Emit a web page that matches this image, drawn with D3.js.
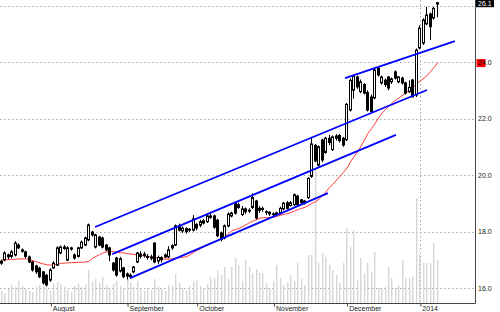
<!DOCTYPE html>
<html>
<head>
<meta charset="utf-8">
<script src="https://cdn.jsdelivr.net/npm/d3@7"></script>
<style>
  body { margin: 0; background: #fff; }
  svg text { font-family: "Liberation Sans", Arial, sans-serif; }
</style>
</head>
<body>
<div id="chart"></div>
<script>
//***************** data *******************/
// one entry per trading day, mid July 2013 -> 9 Jan 2014
var opens = [16.95,16.99,17.17,17.12,17.17,17.52,17.35,17.28,17.10,16.92,
  16.78,16.70,16.57,16.45,16.28,16.71,16.81,17.24,17.40,16.99,
  17.38,17.17,17.12,17.42,17.52,17.70,17.98,17.45,17.80,17.77,
  17.52,17.42,16.88,17.06,16.60,16.71,16.50,16.45,16.57,16.92,
  17.20,17.15,17.12,17.05,17.59,16.95,17.08,17.10,17.10,17.42,
  17.52,18.20,18.02,18.10,18.05,18.05,18.25,18.22,18.30,18.35,
  18.55,18.55,18.40,17.95,17.77,18.20,18.55,19.00,18.85,18.60,
  18.80,18.72,18.85,19.08,18.75,18.82,18.70,18.68,18.60,18.60,
  18.65,18.80,19.02,18.92,18.95,19.25,19.12,19.00,19.20,19.95,
  21.05,20.35,21.24,20.80,21.30,20.90,21.30,21.40,21.30,21.25,
  22.30,23.00,23.47,22.95,23.20,22.92,22.76,22.73,23.79,23.26,
  23.36,23.47,23.30,23.65,23.30,23.43,23.26,22.95,23.36,22.83,
  24.50,24.67,25.35,25.70,25.56,26.05];
var highs = [17.00,17.30,17.22,17.35,17.66,17.58,17.40,17.32,17.15,16.96,
  16.82,16.75,16.60,16.50,16.70,16.95,17.48,17.50,17.52,17.48,
  17.46,17.22,17.46,17.68,17.82,18.28,18.02,17.92,17.85,17.82,
  17.56,17.46,16.92,17.10,17.10,16.75,16.55,16.52,16.78,17.28,
  17.30,17.28,17.20,17.18,17.62,17.15,17.12,17.22,17.48,17.55,
  18.25,18.28,18.18,18.15,18.12,18.58,18.30,18.42,18.45,18.60,
  18.62,18.60,18.45,18.00,18.25,18.68,18.70,19.05,19.02,18.90,
  18.85,18.82,19.35,19.12,18.90,18.88,18.75,18.72,18.68,18.70,
  18.88,19.05,19.08,19.08,19.35,19.30,19.15,19.12,19.92,21.35,
  21.10,21.05,21.28,21.35,21.42,21.40,21.45,21.45,21.35,22.55,
  23.42,23.55,23.52,23.38,23.25,23.00,22.85,23.78,23.85,23.52,
  23.42,23.50,23.45,23.70,23.50,23.48,23.30,23.35,23.40,24.48,
  25.30,25.55,25.95,25.75,25.95,26.12];
var lows = [16.82,16.95,17.02,17.05,17.12,17.38,17.25,17.05,16.88,16.58,
  16.50,16.35,16.12,16.05,16.22,16.68,16.78,17.20,17.35,16.95,
  17.32,17.00,17.08,17.38,17.48,17.65,17.82,17.40,17.48,17.40,
  17.30,16.95,16.58,16.40,16.55,16.35,16.30,16.33,16.52,16.88,
  17.05,17.08,17.00,16.98,16.88,16.85,16.90,17.05,17.05,17.35,
  17.48,18.00,17.95,17.92,17.98,18.00,18.05,18.15,18.25,18.30,
  18.45,18.10,17.80,17.65,17.72,18.15,18.50,18.60,18.80,18.55,
  18.62,18.65,18.80,18.42,18.65,18.70,18.58,18.55,18.52,18.55,
  18.60,18.75,18.78,18.88,18.90,18.90,18.95,18.95,19.15,19.90,
  20.45,20.30,20.45,20.75,21.05,20.85,21.22,21.15,21.00,21.20,
  22.25,22.70,23.05,22.90,22.85,22.25,22.20,22.68,23.48,23.20,
  23.12,23.00,23.22,23.38,23.25,23.20,22.85,22.90,22.78,22.76,
  24.45,24.60,25.30,24.78,25.50,25.58];
var closes = [16.88,17.24,17.10,17.28,17.59,17.42,17.30,17.12,16.92,16.64,
  16.57,16.40,16.18,16.11,16.64,16.88,17.42,17.45,17.45,17.42,
  17.42,17.06,17.42,17.62,17.77,18.23,17.88,17.88,17.52,17.45,
  17.35,17.17,16.64,16.46,17.04,16.40,16.42,16.40,16.74,17.24,
  17.12,17.20,17.08,17.10,16.92,17.08,17.00,17.17,17.35,17.50,
  18.20,18.05,18.12,18.00,18.08,18.45,18.12,18.35,18.38,18.55,
  18.50,18.15,17.85,17.72,18.20,18.62,18.65,18.65,18.95,18.80,
  18.70,18.75,19.20,18.48,18.82,18.78,18.68,18.62,18.62,18.66,
  18.82,19.00,18.82,19.02,19.30,18.95,19.02,19.08,19.88,21.10,
  20.50,21.00,20.53,21.30,21.15,21.35,21.38,21.22,21.06,22.50,
  23.35,23.50,23.12,23.30,22.90,22.30,22.25,23.72,23.54,23.47,
  23.20,23.08,23.40,23.43,23.47,23.26,22.90,23.10,22.76,24.42,
  25.20,25.49,25.66,25.25,25.90,26.10];
// volume, thousands of shares
var volumes = [240,200,280,360,320,440,340,280,240,220,
  320,360,340,280,240,400,420,380,320,260,
  220,340,380,320,380,660,440,480,400,520,
  360,280,380,440,340,300,500,400,320,440,
  280,240,300,260,480,320,280,240,360,340,
  580,400,300,260,340,440,460,340,300,380,
  520,500,660,560,720,480,720,900,760,440,
  860,720,600,680,600,600,400,300,440,760,
  500,360,400,560,440,800,480,360,960,960,
  2700,800,1000,920,760,660,560,400,800,1500,
  1120,1460,460,900,600,800,620,1020,300,300,
  320,720,500,300,360,860,500,500,520,2100,
  980,800,800,800,1200,860];
// moving average (red line)
var movAvg = [17.00,17.00,17.01,17.01,17.02,17.03,17.03,17.03,17.00,16.96,
  16.92,16.88,16.85,16.82,16.81,16.82,16.85,16.87,16.88,16.89,
  16.90,16.90,16.91,16.91,16.92,16.95,17.05,17.12,17.18,17.24,
  17.28,17.30,17.29,17.27,17.25,17.24,17.22,17.20,17.18,17.17,
  17.15,17.13,17.11,17.09,17.07,17.05,17.03,17.02,17.02,17.04,
  17.06,17.08,17.09,17.11,17.18,17.26,17.34,17.40,17.47,17.53,
  17.59,17.64,17.68,17.74,17.83,17.92,18.03,18.07,18.11,18.17,
  18.24,18.31,18.37,18.42,18.47,18.49,18.49,18.50,18.51,18.54,
  18.58,18.61,18.63,18.68,18.73,18.78,18.82,18.86,18.93,19.00,
  19.06,19.15,19.28,19.42,19.56,19.68,19.82,19.96,20.10,20.25,
  20.48,20.65,20.82,21.02,21.25,21.48,21.64,21.82,22.02,22.18,
  22.32,22.45,22.55,22.65,22.74,22.83,22.92,23.01,23.12,23.22,
  23.33,23.42,23.53,23.67,23.82,23.98];

// trend lines: [start day, start price, end day, end price]
var trendLines = [
  [98.4, 23.43, 129.9, 24.74],
  [26.7, 18.16, 121.9, 23.01],
  [31.6, 17.20, 113.0, 21.42],
  [36.7, 16.35, 93.5, 19.36]
];

var monthIdx = [14, 36, 56, 78, 99, 120];
var monthLabels = ["August", "September", "October", "November", "December", "2014"];
var yearIdx = 120;
var priceTicks = [16, 18, 20, 22, 24, 26];

//************* set dimensions ***************/
var width = 500, height = 312;
var axisX = 475, axisY = 303;

var svg = d3.select("#chart")
  .append("svg")
    .attr("width", width)
    .attr("height", height);

//***************** scales *******************/
var x = d3.scaleLinear()
  .domain([0, closes.length - 1])
  .range([2, 437.8]);

var y = d3.scaleLinear()
  .domain([16, 26])
  .range([288, 5.5]);

var yVol = d3.scaleLinear()
  .domain([0, 6000])
  .range([axisY, 3]);

//***************** gridlines *******************/
svg.append("g")
  .selectAll("line")
  .data(priceTicks)
  .enter().append("line")
    .attr("x1", 0)
    .attr("x2", axisX)
    .attr("y1", function(d) { return Math.round(y(d)) + 0.5; })
    .attr("y2", function(d) { return Math.round(y(d)) + 0.5; })
    .attr("stroke", "#a8a8a8")
    .attr("stroke-dasharray", "1.5,2.5");

// year separator
svg.append("line")
  .attr("x1", Math.round(x(yearIdx)) + 0.5)
  .attr("x2", Math.round(x(yearIdx)) + 0.5)
  .attr("y1", 0)
  .attr("y2", axisY)
  .attr("stroke", "#a8a8a8")
  .attr("stroke-dasharray", "1.5,2.5");

//***************** volume *******************/
svg.append("g")
  .selectAll("rect")
  .data(volumes)
  .enter().append("rect")
    .attr("x", function(d, i) { return Math.round(x(i)) - 1; })
    .attr("width", 1.4)
    .attr("y", function(d) { return yVol(d); })
    .attr("height", function(d) { return axisY - yVol(d); })
    .attr("fill", "#d6d6d6");

//***************** moving average *******************/
svg.append("path")
  .datum(movAvg)
  .attr("fill", "none")
  .attr("stroke", "#ff3b3b")
  .attr("stroke-width", 1)
  .attr("d", d3.line()
    .x(function(d, i) { return x(i); })
    .y(function(d) { return y(d); }));

//***************** candles *******************/
var candles = svg.append("g")
  .selectAll("g")
  .data(closes)
  .enter().append("g");

candles.append("line")
  .attr("x1", function(d, i) { return Math.round(x(i)) - 0.5; })
  .attr("x2", function(d, i) { return Math.round(x(i)) - 0.5; })
  .attr("y1", function(d, i) { return y(highs[i]); })
  .attr("y2", function(d, i) { return y(lows[i]); })
  .attr("stroke", "#000")
  .attr("stroke-width", 1);

candles.append("rect")
  .attr("x", function(d, i) { return Math.round(x(i)) - 1.5; })
  .attr("width", 2)
  .attr("y", function(d, i) { return y(Math.max(opens[i], d)); })
  .attr("height", function(d, i) { return Math.max(0.5, Math.abs(y(opens[i]) - y(d))); })
  .attr("fill", function(d, i) { return d >= opens[i] ? "#fff" : "#000"; })
  .attr("stroke", "#000")
  .attr("stroke-width", 1);

//***************** trend lines *******************/
svg.append("g")
  .selectAll("line")
  .data(trendLines)
  .enter().append("line")
    .attr("x1", function(d) { return x(d[0]); })
    .attr("y1", function(d) { return y(d[1]); })
    .attr("x2", function(d) { return x(d[2]); })
    .attr("y2", function(d) { return y(d[3]); })
    .attr("stroke", "#0000ff")
    .attr("stroke-width", 1.8);

//***************** axes *******************/
svg.append("line")
  .attr("x1", axisX + 0.5).attr("x2", axisX + 0.5)
  .attr("y1", 0).attr("y2", axisY + 0.5)
  .attr("stroke", "#444");
svg.append("line")
  .attr("x1", 0).attr("x2", axisX + 0.5)
  .attr("y1", axisY + 0.5).attr("y2", axisY + 0.5)
  .attr("stroke", "#444");

var xAxis = d3.axisBottom(x)
  .tickValues(monthIdx)
  .tickFormat(function(d, i) { return monthLabels[i]; })
  .tickSize(3)
  .tickSizeOuter(0);

var gx = svg.append("g")
  .attr("transform", "translate(0," + (axisY + 0.5) + ")")
  .call(xAxis);
gx.select(".domain").remove();
gx.selectAll(".tick line").attr("stroke", "#444");
gx.selectAll(".tick text")
  .attr("text-anchor", "start")
  .attr("x", 1.5)
  .attr("y", 7)
  .attr("dy", 0)
  .attr("font-size", "7px")
  .attr("fill", "#222");

var lastClose = closes[closes.length - 1];
var lastMa = movAvg[movAvg.length - 1];

var yAxis = d3.axisRight(y)
  .tickValues(priceTicks.filter(function(d) {
    return Math.abs(y(d) - y(lastClose)) > 8 && Math.abs(y(d) - y(lastMa)) > 8;
  }))
  .tickFormat(d3.format(".1f"))
  .tickSize(0)
  .tickPadding(3);

var gy = svg.append("g")
  .attr("transform", "translate(" + axisX + ",0)")
  .call(yAxis);
gy.select(".domain").remove();
gy.selectAll(".tick text")
  .attr("font-size", "7px")
  .attr("fill", "#222");

//***************** value markers *******************/
svg.append("rect")
  .attr("x", axisX + 1.5)
  .attr("y", y(lastMa) - 3.5)
  .attr("width", 9)
  .attr("height", 8)
  .attr("fill", "#ff0000");
svg.append("text")
  .attr("x", axisX + 3)
  .attr("y", y(lastMa))
  .attr("dy", "0.35em")
  .attr("font-size", "7px")
  .attr("fill", "#000")
  .text(d3.format(".1f")(lastMa));

svg.append("rect")
  .attr("x", axisX + 1)
  .attr("y", y(lastClose) - 3.5)
  .attr("width", 18)
  .attr("height", 8)
  .attr("fill", "#000");
svg.append("text")
  .attr("x", axisX + 3)
  .attr("y", y(lastClose) + 0.5)
  .attr("dy", "0.35em")
  .attr("font-size", "7px")
  .attr("fill", "#fff")
  .text(d3.format(".1f")(lastClose));
</script>
</body>
</html>
